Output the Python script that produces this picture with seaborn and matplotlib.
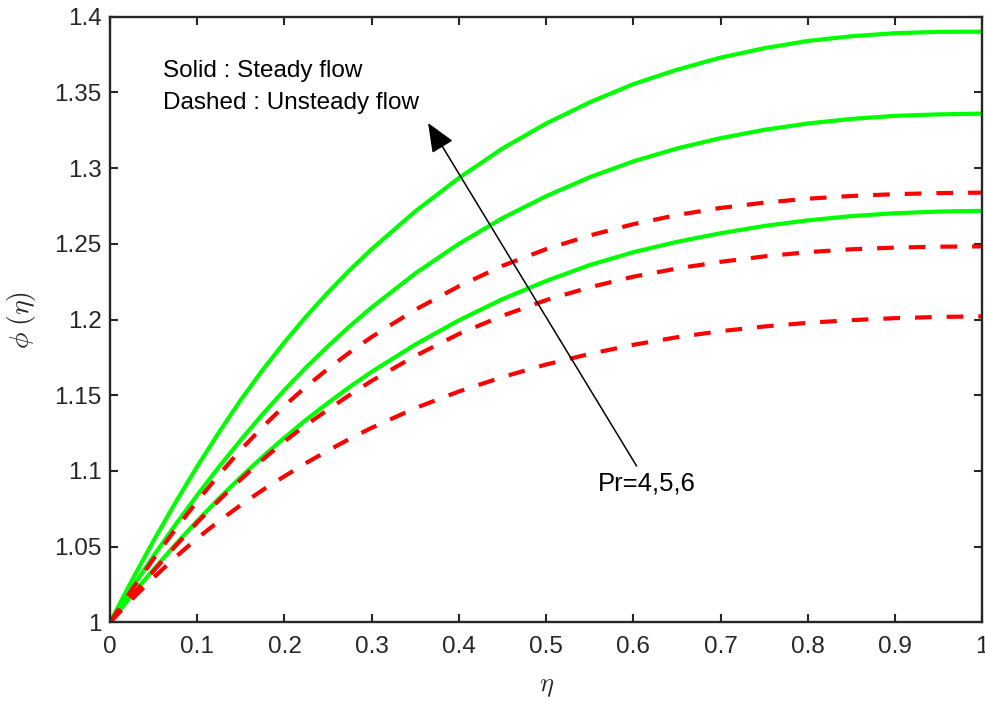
import matplotlib
matplotlib.use("Agg")
import matplotlib.pyplot as plt
import seaborn as sns
import pandas as pd

# Similarity variable
eta = [0.000, 0.025, 0.050, 0.075, 0.100, 0.125, 0.150, 0.175, 0.200, 0.225, 0.250,
       0.275, 0.300, 0.350, 0.400, 0.450, 0.500, 0.550, 0.600, 0.650, 0.700, 0.750,
       0.800, 0.850, 0.900, 0.950, 1.000]

# Steady flow profiles (Pr = 4, 5, 6)
steady_pr4 = [1.0000, 1.0179, 1.0350, 1.0514, 1.0670, 1.0819, 1.0960, 1.1094, 1.1220,
              1.1339, 1.1450, 1.1556, 1.1655, 1.1835, 1.1995, 1.2135, 1.2255, 1.2360,
              1.2445, 1.2513, 1.2570, 1.2618, 1.2655, 1.2683, 1.2702, 1.2713, 1.2718]
steady_pr5 = [1.0000, 1.0225, 1.0440, 1.0645, 1.0840, 1.1028, 1.1205, 1.1375, 1.1535,
              1.1685, 1.1825, 1.1957, 1.2080, 1.2305, 1.2500, 1.2670, 1.2815, 1.2940,
              1.3045, 1.3130, 1.3198, 1.3253, 1.3295, 1.3325, 1.3345, 1.3355, 1.3360]
steady_pr6 = [1.0000, 1.0276, 1.0540, 1.0791, 1.1030, 1.1256, 1.1470, 1.1667, 1.1850,
              1.2021, 1.2180, 1.2328, 1.2465, 1.2715, 1.2935, 1.3130, 1.3295, 1.3435,
              1.3555, 1.3650, 1.3730, 1.3792, 1.3840, 1.3871, 1.3891, 1.3900, 1.3901]

# Unsteady flow profiles (Pr = 4, 5, 6)
unsteady_pr4 = [1.0000, 1.0152, 1.0295, 1.0430, 1.0555, 1.0669, 1.0775, 1.0874, 1.0965,
                1.1053, 1.1135, 1.1213, 1.1285, 1.1415, 1.1525, 1.1620, 1.1703, 1.1773,
                1.1833, 1.1883, 1.1923, 1.1954, 1.1978, 1.1996, 1.2009, 1.2017, 1.2021]
unsteady_pr5 = [1.0000, 1.0173, 1.0340, 1.0504, 1.0660, 1.0807, 1.0945, 1.1075, 1.1195,
                1.1305, 1.1405, 1.1503, 1.1595, 1.1760, 1.1905, 1.2025, 1.2128, 1.2213,
                1.2283, 1.2337, 1.2381, 1.2417, 1.2445, 1.2464, 1.2475, 1.2481, 1.2483]
unsteady_pr6 = [1.0000, 1.0215, 1.0420, 1.0615, 1.0800, 1.0975, 1.1140, 1.1291, 1.1430,
                1.1558, 1.1675, 1.1784, 1.1885, 1.2065, 1.2220, 1.2355, 1.2465, 1.2555,
                1.2630, 1.2690, 1.2737, 1.2772, 1.2798, 1.2816, 1.2828, 1.2835, 1.2838]

xticks = [0, 0.1, 0.2, 0.3, 0.4, 0.5, 0.6, 0.7, 0.8, 0.9, 1.0]
xticklabels = ["0", "0.1", "0.2", "0.3", "0.4", "0.5", "0.6", "0.7", "0.8", "0.9", "1"]
yticks = [1.0, 1.05, 1.1, 1.15, 1.2, 1.25, 1.3, 1.35, 1.4]
yticklabels = ["1", "1.05", "1.1", "1.15", "1.2", "1.25", "1.3", "1.35", "1.4"]

sns.set_style("ticks")
plt.rcParams["font.family"] = ["Liberation Sans", "DejaVu Sans"]
plt.rcParams["mathtext.fontset"] = "cm"

dark = "#262626"

fig = plt.figure(figsize=(9.85, 7.02), dpi=100)
ax = fig.add_axes([0.1117, 0.1135, 0.8856, 0.8627])

steady = [steady_pr4, steady_pr5, steady_pr6]
unsteady = [unsteady_pr4, unsteady_pr5, unsteady_pr6]

for s in steady:
    df = pd.DataFrame({"eta": eta, "phi": s})
    sns.lineplot(data=df, x="eta", y="phi", ax=ax, color="#00ff00",
                 linewidth=3.0, sort=False)
    ax.lines[-1].set_solid_joinstyle("round")
    ax.lines[-1].set_solid_capstyle("butt")

for u in unsteady:
    df = pd.DataFrame({"eta": eta, "phi": u})
    sns.lineplot(data=df, x="eta", y="phi", ax=ax, color="#ff0000",
                 linewidth=3.0, sort=False)
    ax.lines[-1].set_dashes((4.0, 3.6))
    ax.lines[-1].set_dash_capstyle("butt")
    ax.lines[-1].set_dash_joinstyle("round")

ax.set_xlim(0, 1)
ax.set_ylim(1, 1.4)
ax.set_xticks(xticks)
ax.set_xticklabels(xticklabels)
ax.set_yticks(yticks)
ax.set_yticklabels(yticklabels)

for sp in ax.spines.values():
    sp.set_visible(True)
    sp.set_linewidth(1.7)
    sp.set_color(dark)

ax.tick_params(axis="both", which="major", direction="in", length=5.5, width=1.5,
               color=dark, labelcolor=dark, labelsize=17.5,
               top=True, right=True)
ax.tick_params(axis="x", pad=10)
ax.tick_params(axis="y", pad=6)

ax.set_xlabel(r"$\eta$", fontsize=19, color=dark)
ax.set_ylabel(r"$\phi\;(\eta)$", fontsize=20, color=dark)
ax.xaxis.set_label_coords(0.5, -0.087)
ax.yaxis.set_label_coords(-0.083, 0.5)

ax.text(0.0607, 1.364, "Solid : Steady flow", fontsize=17.5, color="black",
        ha="left", va="center")
ax.text(0.0607, 1.343, "Dashed : Unsteady flow", fontsize=17.5, color="black",
        ha="left", va="center")
ax.text(0.559, 1.0919, "Pr=4,5,6", fontsize=18.5, color="black",
        ha="left", va="center")

ax.annotate("", xy=(0.3646, 1.3298), xytext=(0.6037, 1.1032),
            arrowprops=dict(arrowstyle="-|>,head_length=1.0,head_width=0.42",
                            mutation_scale=18, color="black", lw=1.1,
                            shrinkA=0, shrinkB=0))

fig.savefig("out.png", dpi=100)
